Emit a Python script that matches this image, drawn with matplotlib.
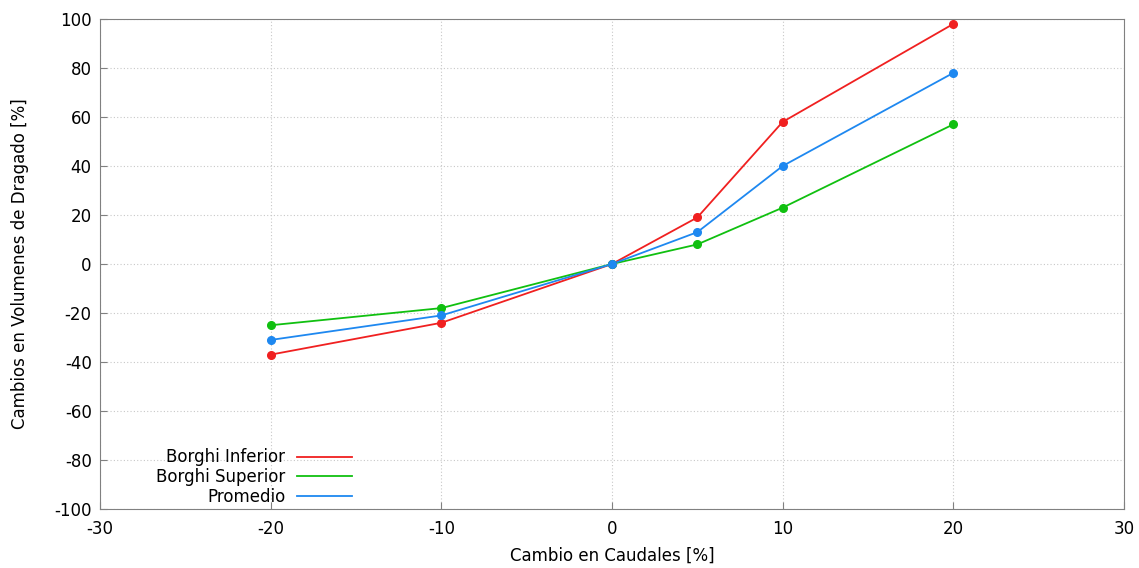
import numpy as np
import matplotlib
matplotlib.use("Agg")
import matplotlib.pyplot as plt

plt.rcParams["axes.unicode_minus"] = False

# cambio en caudales [%]
caudales = [-20, -10, 0, 5, 10, 20]

borghi_inferior = [-37, -24, 0, 19, 58, 98]
borghi_superior = [-25, -18, 0, 8, 23, 57]
promedio = [-31, -21, 0, 13, 40, 78]

series = [
    ("Borghi Inferior", borghi_inferior, "#f02020"),
    ("Borghi Superior", borghi_superior, "#10c010"),
    ("Promedio", promedio, "#1e88f0"),
]

fig = plt.figure(figsize=(11.39, 5.68), dpi=100)
ax = fig.add_axes([0.0878, 0.1039, 0.899, 0.8626])

for label, vals, color in series:
    ax.plot(caudales, vals, color=color, lw=1.3, label=label)
    ax.plot(caudales, vals, "o", color=color, ms=5.5, zorder=3)

ax.set_xlim(-30, 30)
ax.set_ylim(-100, 100)
ax.set_xticks(np.arange(-30, 31, 10))
ax.set_yticks(np.arange(-100, 101, 20))
ax.tick_params(direction="in", length=5, labelsize=12, color="#808080", pad=6)
ax.tick_params(axis="x", pad=8)
ax.grid(True, linestyle=(0, (1, 2)), color="#c8c8c8", lw=0.8)
for s in ax.spines.values():
    s.set_color("#808080")

ax.set_xlabel("Cambio en Caudales [%]", fontsize=12, labelpad=6)
ax.set_ylabel("Cambios en Volumenes de Dragado [%]", fontsize=12, labelpad=18)

leg = ax.legend(loc="lower left", bbox_to_anchor=(0.04, -0.024), frameon=False,
                markerfirst=False, fontsize=12, handlelength=3.3,
                labelspacing=0.1, handletextpad=0.7)
for t in leg.get_texts():
    t.set_ha("right")
leg._legend_box.align = "right"

fig.savefig("out.png", dpi=100)
